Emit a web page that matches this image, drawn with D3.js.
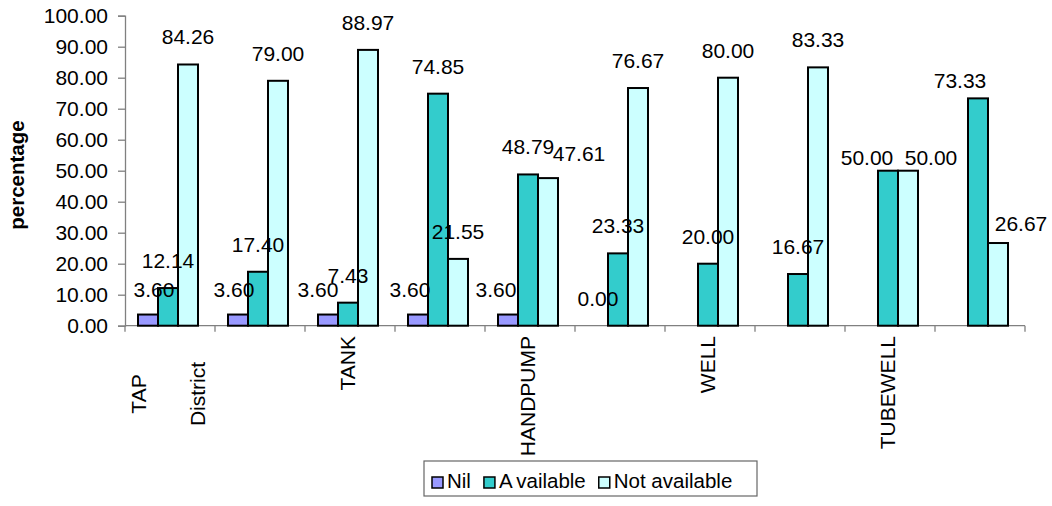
<!DOCTYPE html>
<html>
<head>
<meta charset="utf-8">
<script src="https://cdn.jsdelivr.net/npm/d3@7"></script>
<style>
  html, body { margin: 0; padding: 0; background: #fff; }
  svg { display: block; font-family: Arial, "Liberation Sans", sans-serif; }
</style>
</head>
<body>
<svg id="chart" width="1052" height="506"></svg>
<script>
// Water source categories (only alternate ones carry a printed label)
const categories = ["TAP\nDistrict", "", "TANK", "", "HANDPUMP", "", "WELL", "", "TUBEWELL", ""];

// Series values in percent
const seriesNames = ["Nil", "Available", "Not available"];
const nilValues = [3.60, 3.60, 3.60, 3.60, 3.60, 0.00, null, null, null, null];
const availableValues = [12.14, 17.40, 7.43, 74.85, 48.79, 23.33, 20.00, 16.67, 50.00, 73.33];
const notAvailableValues = [84.26, 79.00, 88.97, 21.55, 47.61, 76.67, 80.00, 83.33, 50.00, 26.67];

const yTicks = [0, 10, 20, 30, 40, 50, 60, 70, 80, 90, 100];
const yTitle = "percentage";

const colors = ["#9999FF", "#33CCCC", "#CCFFFF"];
const series = [nilValues, availableValues, notAvailableValues];

// Hand-placed label nudges (group-series -> [dx, dy]) to keep crowded labels apart
const labelNudge = {
  "0-0": [6, 2], "1-0": [-4, 2], "2-0": [-10, 2], "3-0": [-8, 2], "4-0": [-12, 2],
  "4-2": [31, 3],
  "8-1": [-21, 14], "8-2": [23, 14],
  "9-1": [-18, 10], "9-2": [23, 8]
};

const svg = d3.select("#chart");
const plot = { left: 125, right: 1025, top: 15.7, bottom: 325.7 };
const axisColor = "#808080";
const fontSize = 21;

const y = d3.scaleLinear().domain([0, 100]).range([plot.bottom, plot.top]);
const x0 = d3.scaleBand().domain(d3.range(categories.length)).range([plot.left, plot.right]);
const barW = 20;
const x1 = d3.scaleBand().domain(d3.range(series.length))
  .range([(x0.bandwidth() - 3 * barW) / 2 - 2, (x0.bandwidth() + 3 * barW) / 2 - 2]);

// Y axis
const yAxis = d3.axisLeft(y).tickValues(yTicks).tickSize(7).tickPadding(10)
  .tickFormat(d3.format(".2f"));
const gy = svg.append("g").attr("transform", `translate(${plot.left},0)`).call(yAxis);
gy.select(".domain").attr("stroke", axisColor).attr("stroke-width", 1.3);
gy.selectAll(".tick line").attr("stroke", axisColor).attr("stroke-width", 1.3);
gy.selectAll(".tick text").attr("font-size", fontSize).attr("fill", "#000")
  .attr("font-family", "Arial, 'Liberation Sans', sans-serif");

// X axis baseline with ticks at category boundaries
const boundaries = d3.range(categories.length + 1).map(i => plot.left + i * x0.step());
svg.append("line")
  .attr("x1", plot.left).attr("x2", plot.right)
  .attr("y1", plot.bottom).attr("y2", plot.bottom)
  .attr("stroke", axisColor).attr("stroke-width", 1.3);
svg.append("g").selectAll("line").data(boundaries).join("line")
  .attr("x1", d => d).attr("x2", d => d)
  .attr("y1", plot.bottom).attr("y2", plot.bottom + 6)
  .attr("stroke", axisColor).attr("stroke-width", 1.3);

// Flatten to one record per bar
const bars = [];
categories.forEach((cat, i) => {
  series.forEach((vals, s) => {
    if (vals[i] !== null) bars.push({ i, s, v: vals[i] });
  });
});

// Bars
svg.append("g").selectAll("rect").data(bars.filter(d => d.v > 0)).join("rect")
  .attr("x", d => x0(d.i) + x1(d.s)).attr("width", barW)
  .attr("y", d => y(d.v)).attr("height", d => y(0) - y(d.v))
  .attr("fill", d => colors[d.s]).attr("stroke", "#000").attr("stroke-width", 2);

// Value labels, drawn above all bars
svg.append("g").selectAll("text").data(bars).join("text")
  .attr("x", d => x0(d.i) + x1(d.s) + barW / 2 + (labelNudge[d.i + "-" + d.s] || [0, 0])[0])
  .attr("y", d => y(d.v) - 20 + (labelNudge[d.i + "-" + d.s] || [0, 0])[1])
  .attr("text-anchor", "middle").attr("font-size", fontSize).attr("fill", "#000")
  .text(d => d.v.toFixed(2));

// Category labels, rotated
categories.forEach((cat, i) => {
  if (!cat) return;
  const cx = x0(i) + x1(1) + barW / 2;
  const lines = cat.split("\n");
  if (lines.length === 1) {
    svg.append("text")
      .attr("transform", `translate(${cx},336) rotate(-90)`)
      .attr("text-anchor", "end").attr("dy", "0.35em")
      .attr("font-size", fontSize).attr("fill", "#000")
      .text(lines[0]);
  } else {
    const gap = 59;
    lines.forEach((ln, k) => {
      const lx = cx + (k - (lines.length - 1) / 2) * gap;
      svg.append("text")
        .attr("transform", `translate(${lx},394) rotate(-90)`)
        .attr("text-anchor", "middle").attr("dy", "0.35em")
        .attr("font-size", fontSize).attr("fill", "#000")
        .text(ln);
    });
  }
});

// Y axis title
svg.append("text")
  .attr("transform", `translate(17,175) rotate(-90)`)
  .attr("text-anchor", "middle").attr("dy", "0.35em")
  .attr("font-size", 20.5).attr("font-weight", "bold").attr("fill", "#000")
  .text(yTitle);

// Legend
const legend = svg.append("g");
legend.append("rect")
  .attr("x", 424).attr("y", 461).attr("width", 333).attr("height", 35)
  .attr("fill", "#fff").attr("stroke", "#666").attr("stroke-width", 1.2);
let lx = 432;
seriesNames.forEach((name, s) => {
  legend.append("rect")
    .attr("x", lx).attr("y", 477).attr("width", 11).attr("height", 11)
    .attr("fill", colors[s]).attr("stroke", "#000").attr("stroke-width", 1.5);
  const t = legend.append("text")
    .attr("x", lx + 15).attr("y", 488)
    .attr("font-size", 20.5).attr("fill", "#000");
  if (name === "Available") {
    t.append("tspan").text(name.slice(0, 1));
    t.append("tspan").attr("dx", 4).text(name.slice(1));
  } else {
    t.text(name);
  }
  lx += 15 + t.node().getBBox().width + 13;
});
</script>
</body>
</html>
